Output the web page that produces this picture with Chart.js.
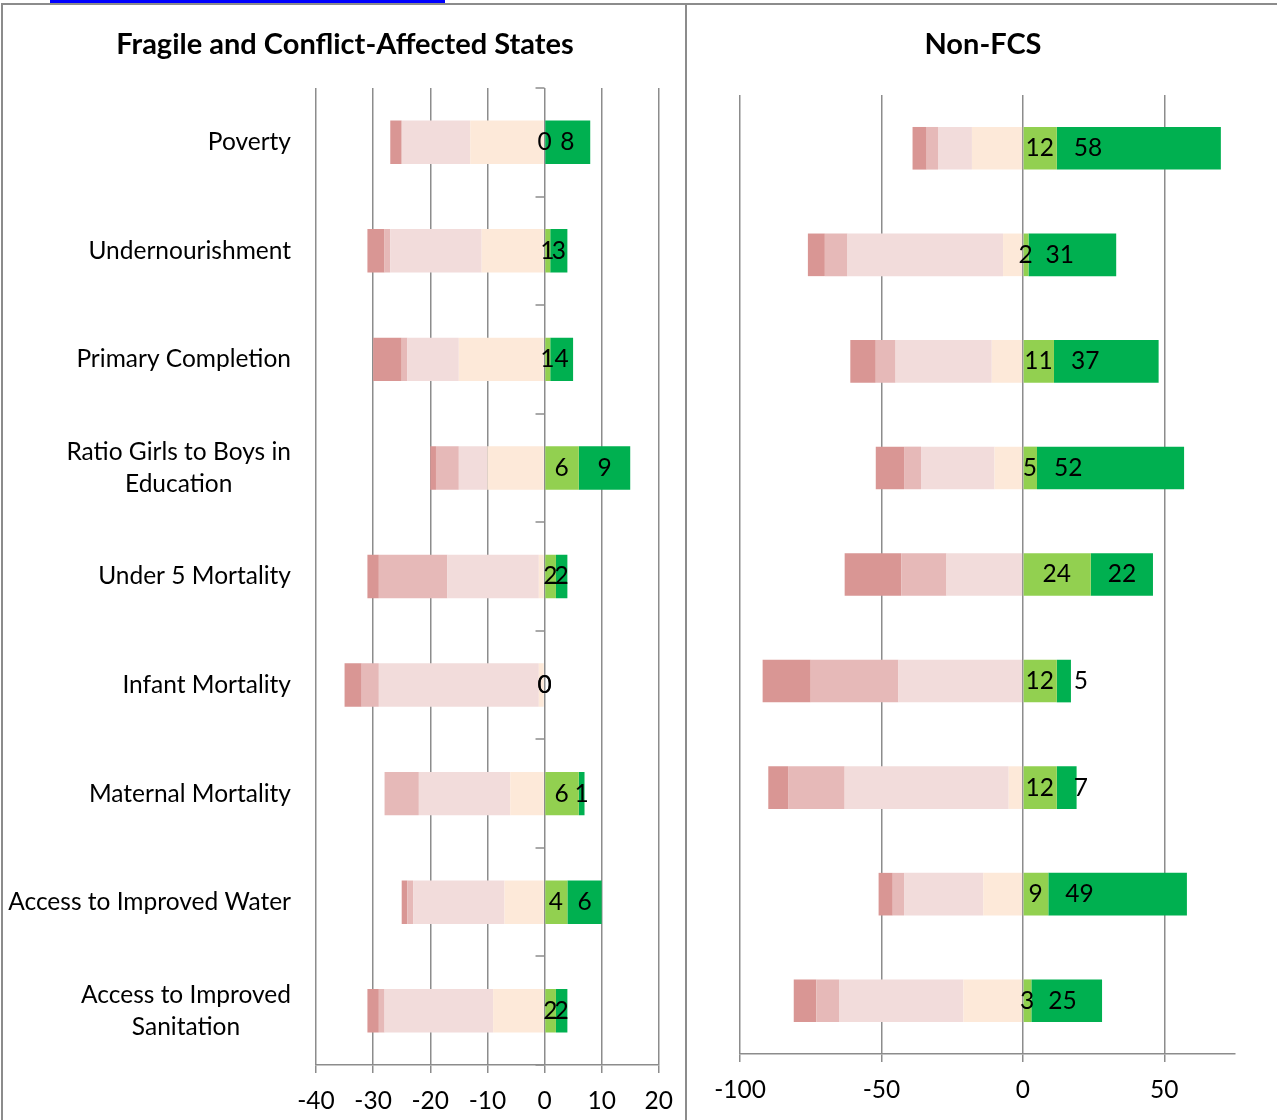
<!DOCTYPE html>
<html><head><meta charset="utf-8">
<script src="https://cdn.jsdelivr.net/npm/chart.js@4.4.1/dist/chart.umd.min.js"></script>
<style>
html,body{margin:0;padding:0;background:#fff;}
#wrap{position:relative;width:1277px;height:1120px;overflow:hidden;background:#fff;}
canvas{position:absolute;top:0;}
#cL{left:0;} #cR{left:686px;}
.ln{position:absolute;background:#8c8c8c;}
#blue{position:absolute;left:50px;top:0;width:395px;height:3px;background:#0000ff;}
.ttl{position:absolute;top:23px;height:40px;line-height:40px;text-align:center;font-family:Lato,"Open Sans",sans-serif;font-weight:bold;font-size:29px;color:#000;white-space:nowrap;}
</style></head>
<body>
<div id="wrap">
  <div class="ln" style="left:2px;top:3px;width:1275px;height:2px;"></div>
  <div class="ln" style="left:1px;top:3px;width:2px;height:1117px;"></div>
  <div class="ln" style="left:685px;top:3px;width:2px;height:1117px;"></div>
  <div id="blue"></div>
  <canvas id="cL" width="686" height="1120"></canvas>
  <canvas id="cR" width="591" height="1120"></canvas>
  <div class="ttl" style="left:0;width:690px;">Fragile and Conflict-Affected States</div>
  <div class="ttl" style="left:686px;width:594px;">Non-FCS</div>
</div>
<script>
// ---- data ----
const categories = ['Poverty','Undernourishment','Primary Completion',['Ratio Girls to Boys in','Education'],'Under 5 Mortality','Infant Mortality','Maternal Mortality','Access to Improved Water',['Access to Improved','Sanitation']];

const fcsPeach      = [-13,-11,-15,-10,-1,-1,-6,-7,-9];
const fcsLightPink  = [-12,-16,-9,-5,-16,-28,-16,-16,-19];
const fcsMedRed     = [0,-1,-1,-4,-12,-3,-6,-1,-1];
const fcsDarkRed    = [-2,-3,-5,-1,-2,-3,0,-1,-2];
const fcsLightGreen = [0,1,1,6,2,0,6,4,2];
const fcsDarkGreen  = [8,3,4,9,2,0,1,6,2];

const nonPeach      = [-18,-7,-11,-10,0,0,-5,-14,-21];
const nonLightPink  = [-12,-55,-34,-26,-27,-44,-58,-28,-44];
const nonMedRed     = [-4,-8,-7,-6,-16,-31,-20,-4,-8];
const nonDarkRed    = [-5,-6,-9,-10,-20,-17,-7,-5,-8];
const nonLightGreen = [12,2,11,5,24,12,12,9,3];
const nonDarkGreen  = [58,31,37,52,22,5,7,49,25];

const fcsTicks = [-40,-30,-20,-10,0,10,20];
const nonTicks = [-100,-50,0,50];

// ---- styles ----
const FONT = 'Lato, "Open Sans", sans-serif';
const FS = 24.5;
const GRID = '#8c8c8c';
const COLORS = ['#FDE9D9','#F2DCDB','#E6B9B8','#D99694','#92D050','#00B050'];

const segLabels = {
  id:'segLabels',
  afterDatasetsDraw(chart, args, opts){
    const ctx = chart.ctx, xs = chart.scales.x, ys = chart.scales.y;
    const sets = chart.data.datasets;
    ctx.save();
    ctx.font = FS + 'px ' + FONT;
    ctx.fillStyle = '#000';
    ctx.textBaseline = 'middle';
    opts.datasets.forEach(di=>{
      sets[di].data.forEach((v,i)=>{
        let start = 0;
        for(let k=0;k<di;k++){ const w = sets[k].data[i]; if(w>0) start += w; }
        const l = xs.getPixelForValue(start), r = xs.getPixelForValue(start+v);
        const yy = ys.getPixelForValue(i);
        const t = String(v);
        if (opts.startOffset && opts.startOffset[di] != null){
          ctx.textAlign='left'; ctx.fillText(t, l + opts.startOffset[di], yy);
        } else {
          ctx.textAlign='center'; ctx.fillText(t, (l+r)/2, yy);
        }
      });
    });
    ctx.restore();
  }
};
const zeroTicks = {
  id:'zeroTicks',
  afterDatasetsDraw(chart, args, opts){
    if(!opts.enabled) return;
    const {ctx, scales:{x,y}} = chart;
    const x0 = x.getPixelForValue(0);
    ctx.save(); ctx.strokeStyle = GRID; ctx.lineWidth = 1.5;
    for(let i=0;i<=chart.data.labels.length;i++){
      const yy = Math.round(y.getPixelForValue(i-0.5));
      ctx.beginPath(); ctx.moveTo(x0-9, yy); ctx.lineTo(x0, yy); ctx.stroke();
    }
    ctx.restore();
  }
};
const catLabels = {
  id:'catLabels',
  afterDraw(chart, args, opts){
    if(!opts.enabled) return;
    const {ctx, scales:{y}} = chart;
    ctx.save(); ctx.font = FS + 'px ' + FONT; ctx.fillStyle='#000';
    ctx.textAlign='center'; ctx.textBaseline='middle';
    chart.data.labels.forEach((lab,i)=>{
      const lines = Array.isArray(lab)?lab:[lab];
      const w = Math.max(...lines.map(s=>ctx.measureText(s).width));
      const cx = opts.right - w/2, cy = y.getPixelForValue(i);
      lines.forEach((s,k)=>ctx.fillText(s, cx, cy + (k-(lines.length-1)/2)*opts.lineHeight));
    });
    ctx.restore();
  }
};

function makeChart(id, sets, tickVals, cfg){
  const names = ['Peach','Light pink','Medium red','Dark red','Light green','Dark green'];
  return new Chart(document.getElementById(id), {
    type:'bar',
    data:{
      labels: categories,
      datasets: sets.map((d,k)=>({label:names[k], data:d, backgroundColor:COLORS[k], borderWidth:0, barPercentage:0.4, categoryPercentage:1.0}))
    },
    plugins:[segLabels, zeroTicks, catLabels],
    options:{
      indexAxis:'y', responsive:false, animation:false,
      layout:{padding:{left:cfg.padLeft, right:cfg.padRight, top:cfg.padTop, bottom:0}},
      plugins:{
        legend:{display:false}, tooltip:{enabled:false}, title:{display:false},
        segLabels:{datasets:[4,5], startOffset:cfg.startOffset},
        zeroTicks:{enabled:cfg.zeroTicks},
        catLabels:{enabled:cfg.catLabels, right:291, lineHeight:32}
      },
      scales:{
        x:{
          stacked:true, min:tickVals[0], max:cfg.max,
          afterBuildTicks(s){ s.ticks = tickVals.map(v=>({value:v})); },
          afterFit(s){ s.height = cfg.xHeight; },
          ticks:{color:'#000', font:{family:FONT, size:FS}, padding:13, includeBounds:false},
          grid:{color:GRID, lineWidth:1.5, tickLength:8, tickColor:GRID},
          border:{display:true, color:GRID, width:1.5}
        },
        y:{
          stacked:true, display:cfg.catLabels,
          afterFit(s){ s.width = cfg.yWidth; },
          ticks:{display:false}, grid:{display:false}, border:{display:false}
        }
      }
    }
  });
}

makeChart('cL',
  [fcsPeach,fcsLightPink,fcsMedRed,fcsDarkRed,fcsLightGreen,fcsDarkGreen], fcsTicks,
  {max:20, padLeft:0, padRight:27, padTop:88, xHeight:55, yWidth:316, zeroTicks:true, catLabels:true, startOffset:null});

makeChart('cR',
  [nonPeach,nonLightPink,nonMedRed,nonDarkRed,nonLightGreen,nonDarkGreen], nonTicks,
  {max:75, padLeft:54, padRight:42, padTop:95, xHeight:66, yWidth:0, zeroTicks:false, catLabels:false, startOffset:{5:17}});
</script>
</body></html>
